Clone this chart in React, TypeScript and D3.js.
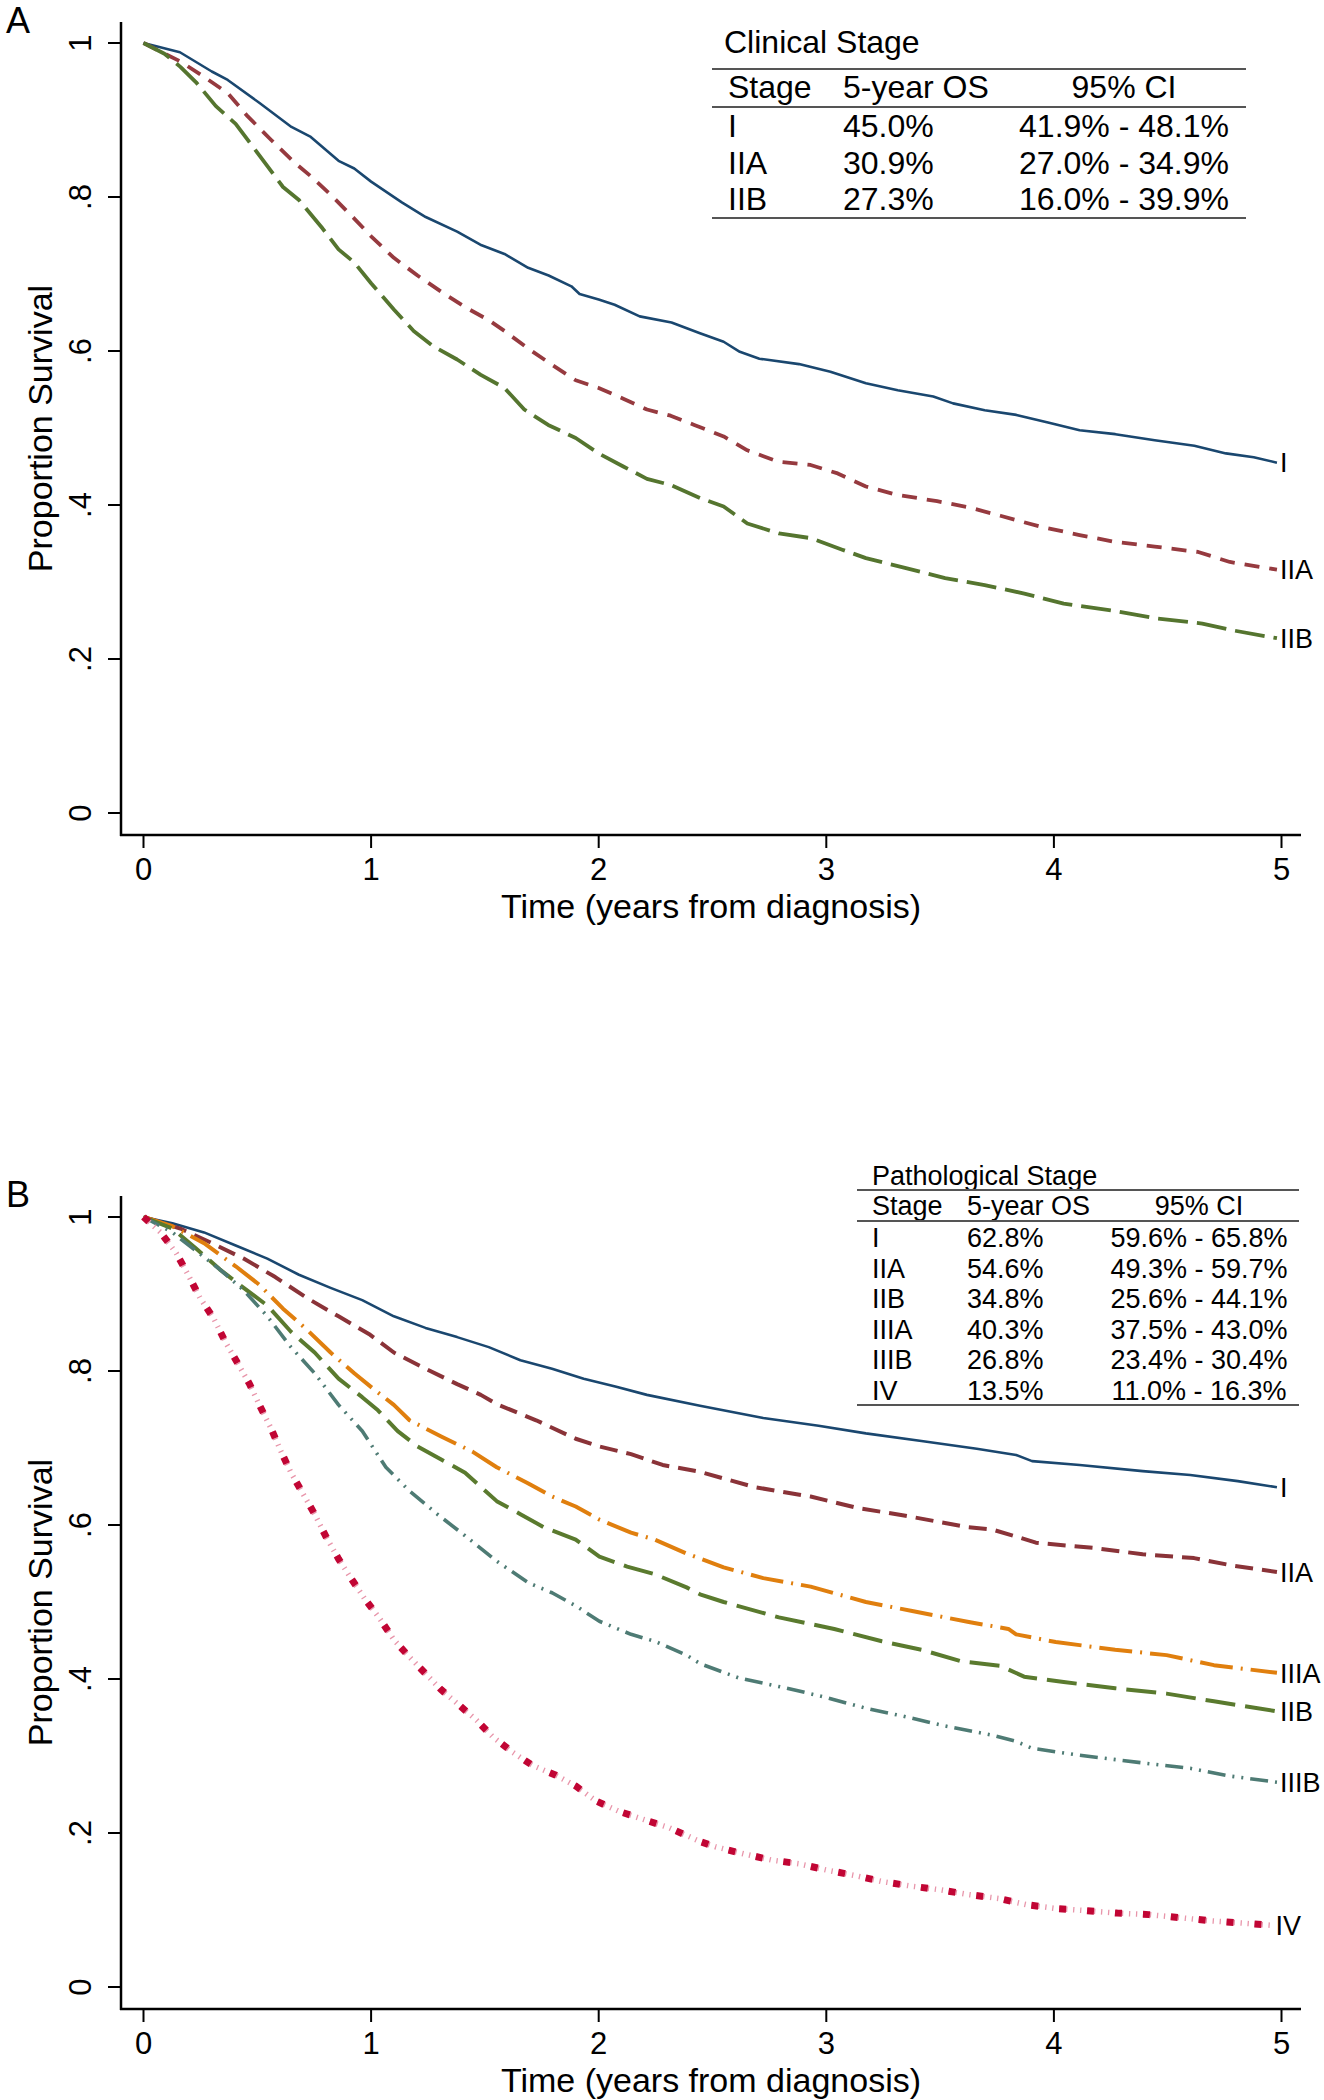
import React from 'react';
import * as d3 from 'd3';

// ---------- Data ----------
const xTicks = [0, 1, 2, 3, 4, 5];
const yTicks = [0, 0.2, 0.4, 0.6, 0.8, 1];
const yTickLabels = ['0', '.2', '.4', '.6', '.8', '1'];

// Panel A: Clinical stage KM curves [years, survival]
const clinI: [number, number][] = [
  [0, 1], [0.16, 0.988], [0.3, 0.963], [0.37, 0.952], [0.51, 0.922], [0.65, 0.891], [0.735, 0.878],
  [0.857, 0.847], [0.926, 0.837], [1.0, 0.82], [1.135, 0.793], [1.24, 0.774], [1.378, 0.755],
  [1.48, 0.738], [1.586, 0.726], [1.69, 0.708], [1.78, 0.698], [1.88, 0.684], [1.916, 0.674],
  [2.0, 0.667], [2.07, 0.66], [2.18, 0.645], [2.32, 0.637], [2.445, 0.623], [2.549, 0.612],
  [2.62, 0.599], [2.706, 0.59], [2.88, 0.583], [3.018, 0.573], [3.174, 0.558], [3.314, 0.549],
  [3.47, 0.541], [3.557, 0.532], [3.696, 0.523], [3.835, 0.517], [3.974, 0.507], [4.113, 0.497],
  [4.27, 0.492], [4.443, 0.484], [4.617, 0.477], [4.756, 0.467], [4.878, 0.462], [4.98, 0.455],
];
const clinIIA: [number, number][] = [
  [0, 1], [0.162, 0.976], [0.266, 0.956], [0.37, 0.935], [0.457, 0.905], [0.561, 0.874], [0.666, 0.844],
  [0.735, 0.827], [0.822, 0.803], [0.926, 0.772], [1.0, 0.749], [1.1, 0.721], [1.204, 0.698],
  [1.308, 0.677], [1.413, 0.657], [1.517, 0.64], [1.586, 0.626], [1.691, 0.603], [1.795, 0.582],
  [1.899, 0.562], [2.0, 0.552], [2.108, 0.538], [2.212, 0.524], [2.316, 0.516], [2.42, 0.504],
  [2.549, 0.489], [2.653, 0.471], [2.792, 0.456], [2.931, 0.452], [3.05, 0.441], [3.174, 0.424],
  [3.314, 0.413], [3.487, 0.405], [3.626, 0.397], [3.765, 0.386], [3.939, 0.372], [4.113, 0.361],
  [4.27, 0.352], [4.443, 0.346], [4.634, 0.339], [4.773, 0.326], [4.98, 0.316],
];
const clinIIB: [number, number][] = [
  [0, 1], [0.092, 0.986], [0.162, 0.969], [0.231, 0.949], [0.318, 0.918], [0.405, 0.895], [0.509, 0.854],
  [0.613, 0.813], [0.683, 0.796], [0.787, 0.759], [0.857, 0.732], [0.926, 0.715], [1.0, 0.688],
  [1.1, 0.654], [1.187, 0.626], [1.274, 0.606], [1.378, 0.589], [1.482, 0.569], [1.586, 0.552],
  [1.673, 0.524], [1.778, 0.504], [1.899, 0.487], [2.0, 0.467], [2.108, 0.45], [2.212, 0.434],
  [2.316, 0.426], [2.445, 0.409], [2.549, 0.398], [2.653, 0.376], [2.792, 0.363], [2.931, 0.357],
  [3.07, 0.342], [3.174, 0.331], [3.35, 0.318], [3.522, 0.305], [3.696, 0.296], [3.87, 0.285],
  [4.043, 0.272], [4.252, 0.263], [4.443, 0.253], [4.652, 0.246], [4.79, 0.237], [4.98, 0.227],
];

// Panel B: Pathological stage KM curves
const pathI: [number, number][] = [
  [0, 1], [0.127, 0.992], [0.266, 0.98], [0.405, 0.963], [0.544, 0.946], [0.683, 0.925], [0.822, 0.908],
  [0.961, 0.892], [1.1, 0.871], [1.239, 0.856], [1.378, 0.844], [1.517, 0.831], [1.656, 0.814],
  [1.795, 0.803], [1.934, 0.79], [2.073, 0.78], [2.212, 0.769], [2.445, 0.755], [2.723, 0.739],
  [2.966, 0.729], [3.174, 0.719], [3.418, 0.709], [3.661, 0.699], [3.834, 0.691], [3.904, 0.683],
  [4.113, 0.678], [4.39, 0.67], [4.599, 0.665], [4.808, 0.657], [4.98, 0.649],
];
const pathIIA: [number, number][] = [
  [0, 1], [0.162, 0.985], [0.301, 0.966], [0.44, 0.946], [0.579, 0.922], [0.717, 0.895], [0.857, 0.871],
  [0.996, 0.847], [1.1, 0.824], [1.239, 0.803], [1.378, 0.783], [1.482, 0.769], [1.552, 0.757],
  [1.725, 0.736], [1.899, 0.712], [2.003, 0.702], [2.142, 0.692], [2.281, 0.678], [2.445, 0.669],
  [2.688, 0.649], [2.931, 0.637], [3.14, 0.622], [3.348, 0.612], [3.626, 0.597], [3.73, 0.594],
  [3.834, 0.585], [3.921, 0.577], [4.182, 0.57], [4.39, 0.562], [4.616, 0.557], [4.79, 0.547],
  [4.98, 0.539],
];
const pathIIIA: [number, number][] = [
  [0, 1], [0.127, 0.988], [0.266, 0.966], [0.405, 0.936], [0.509, 0.912], [0.613, 0.881], [0.717, 0.854],
  [0.822, 0.824], [0.926, 0.797], [1.013, 0.776], [1.1, 0.756], [1.169, 0.736], [1.308, 0.715],
  [1.447, 0.695], [1.552, 0.675], [1.691, 0.654], [1.795, 0.637], [1.899, 0.624], [2.003, 0.607],
  [2.142, 0.59], [2.247, 0.581], [2.386, 0.563], [2.549, 0.545], [2.723, 0.531], [2.931, 0.52],
  [3.174, 0.5], [3.383, 0.488], [3.626, 0.474], [3.8, 0.465], [3.834, 0.458], [4.008, 0.448],
  [4.269, 0.438], [4.495, 0.431], [4.703, 0.418], [4.98, 0.408],
];
const pathIIB: [number, number][] = [
  [0, 1], [0.127, 0.985], [0.231, 0.959], [0.335, 0.932], [0.44, 0.908], [0.544, 0.885], [0.648, 0.851],
  [0.752, 0.824], [0.857, 0.79], [0.961, 0.766], [1.03, 0.749], [1.117, 0.722], [1.204, 0.702],
  [1.308, 0.685], [1.413, 0.668], [1.552, 0.631], [1.656, 0.614], [1.76, 0.597], [1.899, 0.581],
  [2.003, 0.559], [2.125, 0.546], [2.247, 0.536], [2.386, 0.519], [2.445, 0.51], [2.549, 0.5],
  [2.792, 0.48], [3.035, 0.465], [3.244, 0.449], [3.418, 0.438], [3.592, 0.423], [3.765, 0.417],
  [3.869, 0.403], [4.043, 0.396], [4.269, 0.388], [4.495, 0.381], [4.703, 0.371], [4.98, 0.358],
];
const pathIIIB: [number, number][] = [
  [0, 1], [0.127, 0.98], [0.231, 0.956], [0.335, 0.932], [0.44, 0.905], [0.544, 0.871], [0.648, 0.831],
  [0.752, 0.797], [0.857, 0.756], [0.961, 0.722], [1.065, 0.675], [1.169, 0.644], [1.291, 0.614],
  [1.413, 0.586], [1.552, 0.553], [1.691, 0.525], [1.795, 0.512], [1.899, 0.495], [2.003, 0.475],
  [2.142, 0.458], [2.247, 0.449], [2.386, 0.431], [2.445, 0.42], [2.619, 0.401], [2.827, 0.388],
  [3.0, 0.376], [3.174, 0.362], [3.348, 0.351], [3.522, 0.339], [3.73, 0.327], [3.834, 0.319],
  [3.904, 0.31], [4.113, 0.301], [4.39, 0.291], [4.599, 0.284], [4.773, 0.274], [4.98, 0.266],
];
const pathIV: [number, number][] = [
  [0, 1], [0.075, 0.98], [0.144, 0.953], [0.196, 0.925], [0.248, 0.895], [0.309, 0.868], [0.361, 0.837],
  [0.414, 0.81], [0.466, 0.783], [0.509, 0.756], [0.561, 0.725], [0.605, 0.695], [0.648, 0.668],
  [0.7, 0.641], [0.752, 0.614], [0.805, 0.583], [0.857, 0.556], [0.909, 0.532], [0.97, 0.505],
  [1.039, 0.478], [1.1, 0.451], [1.161, 0.431], [1.239, 0.407], [1.308, 0.386], [1.387, 0.366],
  [1.465, 0.346], [1.534, 0.325], [1.621, 0.305], [1.708, 0.288], [1.812, 0.275], [1.899, 0.261],
  [1.986, 0.242], [2.09, 0.228], [2.203, 0.217], [2.308, 0.207], [2.445, 0.189], [2.514, 0.182],
  [2.636, 0.173], [2.758, 0.165], [2.879, 0.16], [3.0, 0.152], [3.122, 0.145], [3.244, 0.137],
  [3.374, 0.131], [3.505, 0.126], [3.626, 0.12], [3.757, 0.115], [3.878, 0.107], [4.008, 0.102],
  [4.147, 0.099], [4.278, 0.096], [4.417, 0.094], [4.556, 0.09], [4.686, 0.086], [4.825, 0.083],
  [4.96, 0.08],
];

// Tables
const clinStages = ['I', 'IIA', 'IIB'];
const clinOS = ['45.0%', '30.9%', '27.3%'];
const clinCI = ['41.9% - 48.1%', '27.0% - 34.9%', '16.0% - 39.9%'];
const pathStages = ['I', 'IIA', 'IIB', 'IIIA', 'IIIB', 'IV'];
const pathOS = ['62.8%', '54.6%', '34.8%', '40.3%', '26.8%', '13.5%'];
const pathCI = ['59.6% - 65.8%', '49.3% - 59.7%', '25.6% - 44.1%', '37.5% - 43.0%', '23.4% - 30.4%', '11.0% - 16.3%'];

// ---------- Styles ----------
const FONT = "'Liberation Sans', Arial, Helvetica, sans-serif";
type Style = { color: string; width: number; dash?: string };
const navy: Style = { color: '#1a476f', width: 2.6 };
const maroonA: Style = { color: '#963a3f', width: 3.8, dash: '15 10' };
const greenA: Style = { color: '#55752f', width: 3.8, dash: '30 9' };
const maroonB: Style = { color: '#8a3338', width: 4, dash: '18 9' };
const greenB: Style = { color: '#5a7a2e', width: 4, dash: '30 10' };
const orangeB: Style = { color: '#e07f0e', width: 4, dash: '33 8 2 8' };
const tealB: Style = { color: '#4e7b74', width: 3.6, dash: '18 7 2 7 2 7' };

const xScale = d3.scaleLinear().domain([0, 5]).range([143.5, 1281.5]);

type Series = { name: string; data: [number, number][]; style: Style; special?: boolean };

function Panel({ off, letter, series, labelSize }: { off: number; letter: string; series: Series[]; labelSize: number }) {
  const yScale = d3.scaleLinear().domain([0, 1]).range([813 + off, 43 + off]);
  const line = d3
    .line<[number, number]>()
    .x((d) => xScale(d[0]))
    .y((d) => yScale(d[1]))
    .curve(d3.curveLinear);
  const axisY = 835 + off;
  const axisTop = 22 + off;
  return (
    <g fontFamily={FONT}>
      <text x={6} y={33 + off} fontSize={36}>{letter}</text>
      {/* axes */}
      <line x1={121} x2={121} y1={axisTop} y2={axisY + 1} stroke="#000" strokeWidth={2.5} />
      <line x1={120} x2={1301} y1={axisY} y2={axisY} stroke="#000" strokeWidth={2.6} />
      {yTicks.map((t, i) => (
        <g key={'y' + i}>
          <line x1={108} x2={121} y1={yScale(t)} y2={yScale(t)} stroke="#000" strokeWidth={2} />
          <text transform={`translate(91,${yScale(t)}) rotate(-90)`} textAnchor="middle" fontSize={31}>
            {yTickLabels[i]}
          </text>
        </g>
      ))}
      {xTicks.map((t) => (
        <g key={'x' + t}>
          <line x1={xScale(t)} x2={xScale(t)} y1={axisY} y2={axisY + 13} stroke="#000" strokeWidth={2} />
          <text x={xScale(t)} y={axisY + 45} textAnchor="middle" fontSize={31}>{t}</text>
        </g>
      ))}
      <text x={711} y={axisY + 83} textAnchor="middle" fontSize={34}>Time (years from diagnosis)</text>
      <text transform={`translate(52,${(axisTop + axisY) / 2}) rotate(-90)`} textAnchor="middle" fontSize={34}>
        Proportion Survival
      </text>
      {/* curves */}
      {series.map((s) =>
        s.special ? (
          <g key={s.name}>
            <path d={line(s.data) || ''} fill="none" stroke="#e895aa" strokeWidth={5.5} strokeDasharray="1.3 5.7" />
            <path d={line(s.data) || ''} fill="none" stroke="#c10534" strokeWidth={7} strokeDasharray="7 21" />
          </g>
        ) : (
          <path
            key={s.name}
            d={line(s.data) || ''}
            fill="none"
            stroke={s.style.color}
            strokeWidth={s.style.width}
            strokeDasharray={s.style.dash}
            strokeLinejoin="round"
          />
        )
      )}
      {series.map((s) => {
        const last = s.data[s.data.length - 1];
        return (
          <text key={'l' + s.name} x={xScale(last[0]) + 3} y={yScale(last[1]) + labelSize * 0.36} fontSize={labelSize}>
            {s.name}
          </text>
        );
      })}
    </g>
  );
}

function Table({
  title, stages, os, ci, fs, titleY, rule1, headerY, rule2, row0, rowStep, rule3, x1, x2, xTitle, xStage, xOS, xCI,
}: any) {
  return (
    <g fontFamily={FONT} fontSize={fs}>
      <text x={xTitle} y={titleY}>{title}</text>
      <line x1={x1} x2={x2} y1={rule1} y2={rule1} stroke="#555" strokeWidth={2} />
      <text x={xStage} y={headerY}>Stage</text>
      <text x={xOS} y={headerY}>5-year OS</text>
      <text x={xCI} y={headerY} textAnchor="middle">95% CI</text>
      <line x1={x1} x2={x2} y1={rule2} y2={rule2} stroke="#555" strokeWidth={2} />
      {stages.map((s: string, i: number) => (
        <g key={s}>
          <text x={xStage} y={row0 + i * rowStep}>{s}</text>
          <text x={xOS} y={row0 + i * rowStep}>{os[i]}</text>
          <text x={xCI} y={row0 + i * rowStep} textAnchor="middle">{ci[i]}</text>
        </g>
      ))}
      <line x1={x1} x2={x2} y1={rule3} y2={rule3} stroke="#555" strokeWidth={2} />
    </g>
  );
}

export default function App() {
  const seriesA: Series[] = [
    { name: 'I', data: clinI, style: navy },
    { name: 'IIA', data: clinIIA, style: maroonA },
    { name: 'IIB', data: clinIIB, style: greenA },
  ];
  const seriesB: Series[] = [
    { name: 'I', data: pathI, style: navy },
    { name: 'IIA', data: pathIIA, style: maroonB },
    { name: 'IIIA', data: pathIIIA, style: orangeB },
    { name: 'IIB', data: pathIIB, style: greenB },
    { name: 'IIIB', data: pathIIIB, style: tealB },
    { name: 'IV', data: pathIV, style: { color: '#c10534', width: 6 }, special: true },
  ];
  return (
    <svg
      width={1324}
      height={2100}
      style={{ position: 'absolute', left: 0, top: 0, background: '#fff' }}
      xmlns="http://www.w3.org/2000/svg"
    >
      <rect width={1324} height={2100} fill="#fff" />
      <Panel off={0} letter="A" series={seriesA} labelSize={27} />
      <Panel off={1174} letter="B" series={seriesB} labelSize={27} />
      <Table
        title="Clinical Stage" stages={clinStages} os={clinOS} ci={clinCI} fs={32}
        titleY={53} rule1={69} headerY={98} rule2={107} row0={137} rowStep={36.5} rule3={218}
        x1={712} x2={1246} xTitle={724} xStage={728} xOS={843} xCI={1124}
      />
      <Table
        title="Pathological Stage" stages={pathStages} os={pathOS} ci={pathCI} fs={27}
        titleY={1185} rule1={1190} headerY={1215} rule2={1221} row0={1247} rowStep={30.6} rule3={1405}
        x1={857} x2={1299} xTitle={872} xStage={872} xOS={967} xCI={1199}
      />
    </svg>
  );
}
